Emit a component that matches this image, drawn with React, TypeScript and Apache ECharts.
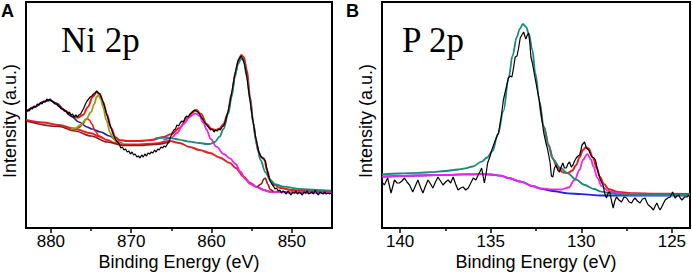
import React, { useEffect, useRef } from "react";
import * as echarts from "echarts";

type Pt = [number, number];

// ---------- Axis ticks ----------
const niTicks = [880, 870, 860, 850];
const niMinorTicks = [875, 865, 855];
const pTicks = [140, 135, 130, 125];
const pMinorTicks = [137.5, 132.5, 127.5];

// ---------- Panel A: Ni 2p (binding energy eV, intensity a.u.) ----------
const niRaw: Pt[] = [
  [883.1,116],[882.9,118],[882.7,117],[882.5,120],[882.3,119],[882.1,122],[881.9,121],[881.7,124],[881.5,123],[881.3,125],
  [881.1,124],[880.9,127],[880.7,126],[880.5,129],[880.3,127],[880.1,129],[879.9,127],[879.7,126],[879.5,124],[879.3,124],
  [879.1,122],[878.9,121],[878.7,119],[878.5,119],[878.3,117],[878.1,117],[877.9,114],[877.7,116],[877.5,113],[877.3,114],
  [877.1,111],[876.9,113],[876.7,111],[876.5,113],[876.3,114],[876.1,117],[875.9,120],[875.7,124],[875.5,127],[875.3,129],
  [875.1,131],[874.9,132],[874.7,134],[874.5,135],[874.3,137],[874.1,135],[873.9,134],[873.7,130],[873.5,126],[873.3,121],
  [873.1,115],[872.9,110],[872.7,104],[872.5,100],[872.3,95],[872.1,91],[871.9,88],[871.7,86],[871.5,84],[871.3,80],
  [871.1,81],[870.9,78],[870.7,79],[870.5,76],[870.3,77],[870.1,74],[869.9,76],[869.7,73],[869.5,74],[869.3,71],
  [869.1,72],[868.9,70],[868.7,73],[868.5,71],[868.3,74],[868.1,72],[867.9,75],[867.7,74],[867.5,76],[867.3,75],
  [867.1,78],[866.9,76],[866.7,79],[866.5,78],[866.3,81],[866.1,80],[865.9,82],[865.7,81],[865.5,84],[865.3,86],
  [865.1,91],[864.9,95],[864.7,98],[864.5,99],[864.3,103],[864.1,102],[863.9,105],[863.7,107],[863.5,106],[863.3,110],
  [863.1,112],[862.9,111],[862.7,114],[862.5,115],[862.3,117],[862.1,118],[861.9,117],[861.7,116],[861.5,114],[861.3,111],
  [861.1,109],[860.9,106],[860.7,104],[860.5,102],[860.3,100],[860.1,98],[859.9,99],[859.7,96],[859.5,98],[859.3,97],
  [859.1,99],[858.9,98],[858.7,101],[858.5,102],[858.3,106],[858.1,112],[857.9,118],[857.7,126],[857.5,135],[857.3,144],
  [857.1,153],[856.9,161],[856.7,167],[856.5,170],[856.3,172],[856.1,169],[855.9,164],[855.7,156],[855.5,145],[855.3,133],
  [855.1,121],[854.9,110],[854.7,100],[854.5,91],[854.3,83],[854.1,76],[853.9,72],[853.7,70],[853.5,70],[853.3,67],
  [853.1,59],[852.9,52],[852.7,47],[852.5,44],[852.3,42],[852.1,39],[851.9,40],[851.7,37],[851.5,38],[851.3,35],
  [851.1,37],[850.9,36],[850.7,34],[850.5,37],[850.3,35],[850.1,33],[849.9,36],[849.7,35],[849.5,37],[849.3,34],
  [849.1,36],[848.9,35],[848.7,33],[848.5,36],[848.3,35],[848.1,37],[847.9,34],[847.7,35],[847.5,36],[847.3,34],
  [847.1,38],[846.9,35],[846.7,33],[846.5,36],[846.3,35],[846.1,34],[845.9,36],[845.7,34],[845.5,35],[845.3,34],[845.1,35],
];
const niEnvelope: Pt[] = [
  [883.1,116],[882,121],[881,126],[880.2,128],[879.2,124],[878.2,117],[877.2,111],[876.6,110.5],[876,113],[875.4,121],
  [874.8,131],[874.3,136],[873.9,134],[873.5,126],[873,113],[872.5,100],[872,91],[871.5,88],[870.5,87],[869,87],
  [867.5,88],[866,91],[865,94],[864,100],[863,110],[862.3,116],[861.9,118],[861.3,114],[860.6,104],[860,99],
  [859.5,98],[859,99.5],[858.5,104],[858,114],[857.5,134],[857,156],[856.6,169],[856.3,173],[856,171],[855.6,158],
  [855.2,131],[854.8,105],[854.5,89],[854.2,77],[853.8,71],[853.4,68],[853.1,58],[852.7,48],[852.2,43],[851.4,40],
  [850,38],[848,37],[845.1,36],
];
const niBackground: Pt[] = [
  [883.1,108],[881,105.5],[879,103],[877,99],[875,94.7],[874,91.5],[873,88],[872,85],[871,83.5],[869,83.5],
  [867,84.5],[865.2,87],[864,85],[862.7,81],[861.5,78],[860.2,75],[859,70.5],[857.7,65],[857,60],[856,51.3],
  [855.2,45],[854.4,41.3],[853.5,38],[852.7,36.3],[850,35.5],[845.1,35.3],
];
const niBackground2: Pt[] = [
  [883.1,107],[879,101.5],[877,97],[875,92],[873,86],[871,82.5],[869,82.5],[867,83.5],[865.2,86],
];
const niSatellite880: Pt[] = [
  [883.1,116],[882,121],[881,126],[880.2,128],[879.4,125],[878.5,119],[877.5,112],[876.5,106],[875.5,101],
  [874.9,99],[873.8,96],[872.7,92],[871.6,86],[871,84],
];
const niPeak875: Pt[] = [
  [877.2,98.5],[876.5,100.5],[876,104],[875.7,108],[875.5,109.5],[875.2,108],[874.9,104],[874.5,97],[874,92],[873.5,89.5],
];
const niPeak874: Pt[] = [
  [877.5,100],[877,99.5],[876.3,103],[875.6,109],[875,116],[874.6,124],[874.3,131],[874.1,133],[873.8,129],[873.5,121],
  [873.1,108],[872.6,95],[872.2,89],[871.7,85.5],[871,84],
];
const niPeak862: Pt[] = [
  [866,88],[865,90],[864.3,95],[863.5,104],[862.7,111],[862.2,114],[861.9,114.5],[861.5,112],[861,105],[860.6,98],
  [860.1,89],[859.4,81.3],[858.5,74],[857.7,69.7],[857,64],[856.4,56.3],[855.8,49],[855.2,44],[854.4,41],[853.5,38],
  [852.7,36.3],[850,35.5],[845.1,35.3],
];
const niPeak856: Pt[] = [
  [867,89.5],[865.5,90.5],[864.5,89],[863.5,87.5],[862.7,86.3],[861.5,85],[860.6,84],[860.2,84],[859.6,86],[859,91.3],
  [858.5,99],[857.9,114.7],[857.5,131],[857.1,151.3],[856.7,164],[856.3,169.7],[856,167],[855.6,151.3],[855.2,128],
  [854.8,104.7],[854.4,84],[853.9,68],[853.3,56],[852.7,48],[852,43.5],[851,41.3],[849,39],[847,38],[845.1,37.3],
];
const niPeak853: Pt[] = [
  [854.3,41],[853.8,44],[853.5,49],[853.3,50],[853.0,44],[852.7,38.5],[852.3,36.5],
];

// ---------- Panel B: P 2p ----------
const pRaw: Pt[] = [
  [141.0,46],[140.87,43],[140.69,50],[140.5,35],[140.31,48],[140.17,45],[140.04,45],[139.9,47],[139.76,50],[139.62,46],
  [139.48,43],[139.3,36],[139.16,42],[139.02,48],[138.88,41],[138.74,35],[138.6,42],[138.46,48],[138.32,44],[138.19,40],
  [138.05,46],[137.91,51],[137.77,47],[137.63,43],[137.49,46],[137.35,48],[137.21,45],[137.07,51],[136.94,44],[136.8,38],
  [136.66,40],[136.52,41],[136.38,38],[136.24,40],[136.1,45],[135.96,50],[135.82,48],[135.69,53],[135.6,56],[135.5,60],
  [135.42,52],[135.35,45],[135.25,55],[135.17,65],[135.05,71],[134.94,78],[134.8,85],[134.67,91],[134.57,95],[134.43,110],
  [134.3,128],[134.15,140],[134.02,150],[133.93,152],[133.83,151],[133.74,160],[133.65,171],[133.55,172],[133.46,180],[133.37,190],
  [133.28,193],[133.18,196],[133.1,191],[133.06,189],[132.98,193],[132.91,195],[132.84,185],[132.78,171],[132.7,165],[132.63,158],
  [132.5,145],[132.35,131],[132.2,112],[132.07,95],[131.95,85],[131.85,78],[131.72,65],[131.65,52],[131.57,51],[131.48,60],
  [131.39,63],[131.3,58],[131.2,56],[131.11,61],[131.02,65],[130.93,60],[130.83,60],[130.74,64],[130.65,66],[130.55,61],
  [130.46,63],[130.37,67],[130.28,70],[130.18,72],[130.09,73],[130.02,78],[129.96,83],[129.82,86],[129.72,80],[129.59,78],
  [129.5,74],[129.41,71],[129.3,70],[129.22,68],[129.1,58],[128.98,50],[128.89,46],[128.8,43],[128.7,34],[128.61,30],
  [128.52,35],[128.43,36],[128.33,27],[128.24,20],[128.15,27],[128.06,31],[127.92,28],[127.78,26],[127.64,31],[127.5,30],
  [127.36,26],[127.22,25],[127.13,28],[127.04,30],[126.9,27],[126.76,25],[126.62,29],[126.48,30],[126.39,26],[126.3,23],
  [126.16,21],[126.02,18],[125.92,22],[125.83,25],[125.74,21],[125.65,18],[125.51,23],[125.37,28],[125.23,30],[125.09,31],
  [124.96,36],[124.82,30],[124.73,32],[124.63,33],[124.54,30],[124.44,28],[124.3,31],[124.17,31],[124.05,33],
];
const pPeak133: Pt[] = [
  [141.0,53.7],[140,54.5],[139,55.2],[138.3,55.8],[137.5,57],[136.8,58.5],[136.4,59.7],[136,61.5],[135.5,66.3],[135.2,70.5],
  [134.9,77],[134.6,94],[134.3,117],[134.0,151],[133.8,172],[133.56,191],[133.4,199],[133.22,204],[133.05,201],[132.9,194.5],
  [132.7,178],[132.54,155],[132.3,126],[132.07,101],[131.8,82],[131.52,68],[131.2,60.5],[130.74,54.7],[130.3,48.5],[129.82,43],
  [129.3,39],[128.89,36.3],[128.4,34.8],[127.96,33.7],[127,33.2],[126,33],[124,33],
];
const pEnvelope: Pt[] = [
  [132.3,126],[132.07,101.5],[131.8,83],[131.6,70],[131.3,60],[131.0,55.5],[130.74,55],[130.5,57.5],[130.28,63],[130.09,71],
  [129.91,78],[129.75,80.7],[129.6,79.5],[129.35,70],[129.15,60],[128.98,51.3],[128.75,44],[128.5,39],[128.0,36],[127.04,34.7],
  [126,34.3],[124,34],
];
const pPeak130: Pt[] = [
  [141.0,51.3],[140,52],[139,52.5],[138,53],[137.35,53.2],[136.5,53.6],[135.5,53.8],[135.0,53.5],[134.44,52.3],[134.02,50],
  [133.33,46.3],[132.72,42],[132.22,39.7],[131.6,38.6],[131.11,38.5],[130.7,40.5],[130.37,48],[130.1,58],[129.91,68],[129.67,74],
  [129.45,68],[129.35,62],[129.1,50],[128.89,42],[128.5,37],[128.15,35.3],[127.5,34],[126,33.3],[124,33],
];
const pBackground: Pt[] = [
  [141.0,51.3],[140,52],[139,52.5],[138,53],[137.35,53.2],[136.5,53.6],[135.5,53.8],[135.0,53.5],[134.44,52.3],[134.02,50],
  [133.33,46.3],[132.72,42],[132.22,39.2],[131.6,37],[130.74,34.7],[130,33.8],[128.9,32.5],[127,32.3],[124,32.3],
];

const SANS = '"Liberation Sans", Arial, Helvetica, sans-serif';
const SERIF = '"Liberation Serif", "Times New Roman", serif';

function mainX(gridIndex: number, min: number, max: number, ticks: number[]) {
  return {
    type: "value", gridIndex, min, max, inverse: true, position: "bottom",
    axisLine: { show: false }, splitLine: { show: false },
    axisTick: { show: true, inside: false, length: 5, customValues: ticks, lineStyle: { color: "#000", width: 1.5 } },
    axisLabel: { show: true, customValues: ticks, margin: 5, fontSize: 17, lineHeight: 17, fontFamily: SANS, color: "#000" },
    name: "Binding Energy (eV)", nameLocation: "middle", nameGap: 25, nameMoveOverlap: false,
    nameTextStyle: { fontSize: 18, lineHeight: 18, fontFamily: SANS, color: "#000" },
  };
}
function minorX(gridIndex: number, min: number, max: number, ticks: number[]) {
  return {
    type: "value", gridIndex, min, max, inverse: true, position: "bottom",
    axisLine: { show: false }, splitLine: { show: false }, axisLabel: { show: false },
    axisTick: { show: true, inside: false, length: 3, customValues: ticks, lineStyle: { color: "#000", width: 1.5 } },
  };
}
function line(data: Pt[], color: string, width: number, xAxisIndex: number, yAxisIndex: number, z: number, smooth = true) {
  return {
    type: "line", data, xAxisIndex, yAxisIndex, z, showSymbol: false, symbol: "none",
    smooth: smooth ? 0.35 : false, smoothMonotone: smooth ? "x" : undefined,
    lineStyle: { color, width }, silent: true, clip: true,
  };
}

const RED = "#f01818";
const TEAL = "#1b8a7d";
const MAGENTA = "#f022f0";

export default function App() {
  const ref = useRef<HTMLDivElement>(null);
  useEffect(() => {
    document.body.style.margin = "0";
    const chart = echarts.init(ref.current as HTMLDivElement, null, { renderer: "svg" });
    const option: any = {
      animation: false,
      grid: [
        { left: 26, top: 2, width: 306, height: 226, show: true, borderColor: "#000", borderWidth: 2, backgroundColor: "transparent", containLabel: false, outerBoundsMode: "none" },
        { left: 382, top: 2, width: 308, height: 226, show: true, borderColor: "#000", borderWidth: 2, backgroundColor: "transparent", containLabel: false, outerBoundsMode: "none" },
      ],
      xAxis: [
        mainX(0, 845, 883.1, niTicks),
        minorX(0, 845, 883.1, niMinorTicks),
        mainX(1, 124, 141, pTicks),
        minorX(1, 124, 141, pMinorTicks),
      ],
      yAxis: [
        { type: "value", gridIndex: 0, min: 0, max: 226, show: false },
        { type: "value", gridIndex: 1, min: 0, max: 226, show: false },
      ],
      series: [
        line(niEnvelope, RED, 2, 0, 0, 2),
        line(niBackground, "#e02424", 2, 0, 0, 3),
        line(niBackground2, "#8e1c1c", 1.5, 0, 0, 3),
        line(niSatellite880, "#1f1f8f", 1.6, 0, 0, 4),
        line(niPeak875, "#e81a1a", 1.6, 0, 0, 4),
        line(niPeak874, "#9c9a12", 1.8, 0, 0, 4),
        line(niPeak862, MAGENTA, 1.8, 0, 0, 4),
        line(niPeak856, TEAL, 1.8, 0, 0, 5),
        line(niPeak853, "#8e1c1c", 1.6, 0, 0, 5),
        line(niRaw, "#000", 1.2, 0, 0, 6, false),

        line(pEnvelope, RED, 2, 2, 1, 2),
        line(pBackground, "#2424e0", 1.8, 2, 1, 3),
        line(pPeak130, MAGENTA, 1.8, 2, 1, 4),
        line(pPeak133, TEAL, 1.8, 2, 1, 5),
        line(pRaw, "#000", 1.2, 2, 1, 6, false),
      ],
      graphic: [
        { type: "text", x: 1, y: 10.5, style: { text: "A", font: `bold 18px ${SANS}`, fill: "#000", align: "left", verticalAlign: "middle" } },
        { type: "text", x: 346, y: 10.5, style: { text: "B", font: `bold 18px ${SANS}`, fill: "#000", align: "left", verticalAlign: "middle" } },
        { type: "text", x: 61, y: 40, style: { text: "Ni 2p", font: `35px ${SERIF}`, fill: "#000", align: "left", verticalAlign: "middle" } },
        { type: "text", x: 402, y: 40, style: { text: "P 2p", font: `35px ${SERIF}`, fill: "#000", align: "left", verticalAlign: "middle" } },
        { type: "text", x: 10, y: 121, rotation: Math.PI / 2, style: { text: "Intensity (a.u.)", font: `18px ${SANS}`, fill: "#000", align: "center", verticalAlign: "middle" } },
        { type: "text", x: 366, y: 121, rotation: Math.PI / 2, style: { text: "Intensity (a.u.)", font: `18px ${SANS}`, fill: "#000", align: "center", verticalAlign: "middle" } },
      ],
    };
    chart.setOption(option);
    return () => chart.dispose();
  }, []);
  return <div ref={ref} style={{ width: 692, height: 276 }} />;
}
